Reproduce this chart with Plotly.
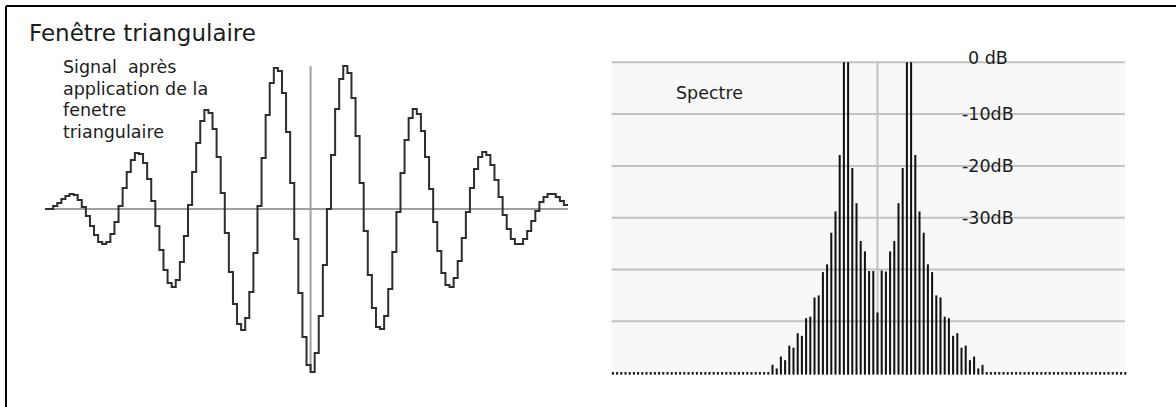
import plotly.graph_objects as go

# ---------------------------------------------------------------------------
# Data
# ---------------------------------------------------------------------------
# Windowed signal: 128 samples (arbitrary amplitude units, zero = baseline)
signal = [
    0, 0, 3, 6, 10, 13, 15, 14, 9, 2,
    -7, -17, -26, -33, -35, -33, -25, -13, 3, 21,
    37, 49, 56, 55, 46, 30, 8, -17, -41, -61,
    -74, -78, -71, -53, -27, 4, 37, 66, 88, 99,
    96, 80, 52, 16, -24, -63, -95, -115, -121, -109,
    -83, -44, 3, 51, 94, 126, 141, 138, 116, 77,
    26, -30, -84, -128, -156, -163, -144, -107, -56, 0,
    54, 100, 130, 143, 136, 111, 73, 26, -22, -66,
    -99, -118, -120, -107, -80, -43, -3, 36, 69, 91,
    100, 95, 78, 52, 20, -13, -42, -64, -76, -78,
    -69, -52, -29, -3, 21, 40, 52, 57, 54, 44,
    29, 12, -6, -20, -30, -35, -35, -30, -22, -12,
    -2, 7, 12, 15, 15, 12, 8, 4,
]
center_index = 65          # boundary at the middle of the window

# Spectrum (dB) for bins -25 .. 25 ; all other bins sit on the floor
spectrum_bins_core = list(range(-25, 26))
spectrum_db_core = [
    -58.4, -59.1, -56.8, -57.5, -54.7, -55.1, -52.3, -52.8, -49.4, -49.1,
    -45.4, -45.0, -40.5, -39.0, -32.9, -28.8, -17.9, 0.0, 0.0, -20.4,
    -27.2, -34.5, -36.5, -40.3, -40.3, -48.3, -40.2, -40.4, -36.5, -34.5,
    -27.2, -20.4, 0.0, 0.0, -17.9, -28.8, -32.9, -39.0, -40.5, -45.0,
    -45.4, -49.1, -49.4, -52.8, -52.3, -55.1, -54.7, -57.5, -56.8, -59.1,
    -58.4,
]
bin_first, bin_last = -63, 59
floor_db = -59.8
bar_base_db = -60.3
db_ticks = [0, -10, -20, -30, -40, -50]
db_labels = ["0 dB", "-10dB", "-20dB", "-30dB"]

core = dict(zip(spectrum_bins_core, spectrum_db_core))
spectrum_bins = list(range(bin_first, bin_last + 1))
spectrum_db = [core.get(b, floor_db) for b in spectrum_bins]

# ---------------------------------------------------------------------------
# Layout helpers (pixel geometry of the 1176 x 407 canvas)
# ---------------------------------------------------------------------------
W, H = 1176, 407


def px(x):
    return x / W


def py(y):
    return 1 - y / H


FONT = "DejaVu Sans"
TXT = "#1c1c1c"
AXIS_GREY = "#a0a0a0"
GRID_GREY = "#c2c2c2"

fig = go.Figure()

# Signal as a zero-order-hold staircase
fig.add_trace(go.Scatter(
    x=list(range(len(signal) + 1)),
    y=signal + [signal[-1]],
    mode="lines",
    line=dict(color="#2e2e2e", width=2, shape="hv"),
    xaxis="x", yaxis="y", hoverinfo="skip",
))

# Spectrum as thin vertical bars from the floor
fig.add_trace(go.Bar(
    x=spectrum_bins,
    y=[v - bar_base_db for v in spectrum_db],
    base=bar_base_db,
    width=0.48,
    marker=dict(color="#111111", line=dict(width=0)),
    xaxis="x2", yaxis="y2", hoverinfo="skip",
))

shapes = []
# spectrum panel background
shapes.append(dict(type="rect", xref="x2", yref="y2",
                   x0=bin_first - 0.3, x1=bin_last - 0.1, y0=-60, y1=0,
                   fillcolor="#f8f8f8", line=dict(width=0), layer="below"))
# dB grid
for d in db_ticks:
    shapes.append(dict(type="line", xref="x2", yref="y2",
                       x0=bin_first - 0.3, x1=bin_last - 0.1, y0=d, y1=d,
                       line=dict(color=GRID_GREY, width=2), layer="below"))
# DC line of the spectrum
shapes.append(dict(type="line", xref="x2", yref="y2", x0=0, x1=0,
                   y0=-60, y1=0, line=dict(color=GRID_GREY, width=2),
                   layer="below"))
# Signal axes
shapes.append(dict(type="line", xref="x", yref="y", x0=0, x1=len(signal),
                   y0=0, y1=0, line=dict(color=AXIS_GREY, width=2),
                   layer="below"))
shapes.append(dict(type="line", xref="x", yref="y", x0=center_index,
                   x1=center_index, y0=-161, y1=143,
                   line=dict(color=AXIS_GREY, width=2), layer="below"))
# Frame
shapes.append(dict(type="line", xref="paper", yref="paper",
                   x0=px(6), x1=px(6), y0=py(6), y1=0,
                   line=dict(color="#000000", width=2)))
shapes.append(dict(type="line", xref="paper", yref="paper",
                   x0=px(6), x1=1, y0=py(6), y1=py(6),
                   line=dict(color="#000000", width=2)))

annotations = []
annotations.append(dict(text="Fenêtre triangulaire", xref="paper", yref="paper",
                        x=px(27), y=py(33), xanchor="left", yanchor="middle",
                        showarrow=False, font=dict(family=FONT, size=23, color=TXT)))
label_lines = ["Signal\u00a0 après", "application de la", "fenetre", "triangulaire"]
for i, line in enumerate(label_lines):
    annotations.append(dict(text=line, xref="paper", yref="paper",
                            x=px(61), y=py(67 + 21.6 * i), xanchor="left",
                            yanchor="middle", showarrow=False,
                            font=dict(family=FONT, size=17.5, color=TXT)))
annotations.append(dict(text="Spectre", xref="paper", yref="paper",
                        x=px(674), y=py(93), xanchor="left", yanchor="middle",
                        showarrow=False, font=dict(family=FONT, size=17.5, color=TXT)))
for d, lab in zip(db_ticks, db_labels):
    annotations.append(dict(text=lab, xref="x2", yref="y2",
                            x=26.3, y=d + (0.8 if d == 0 else 0),
                            xanchor="center", yanchor="middle", showarrow=False,
                            font=dict(family=FONT, size=17.5, color=TXT)))

# Axis geometry: signal sample i -> 45 + 4.086*i px ; bin b -> 877.5 + 4.2*b px
sig_dx = 4.086
spec_dx = 4.2
db_px = 5.18
fig.update_layout(
    width=W, height=H,
    margin=dict(l=0, r=0, t=0, b=0),
    paper_bgcolor="white", plot_bgcolor="rgba(0,0,0,0)",
    showlegend=False, hovermode=False,
    xaxis=dict(domain=[px(40), px(580)], range=[(40 - 45) / sig_dx, (580 - 45) / sig_dx],
               visible=False, fixedrange=True),
    yaxis=dict(domain=[py(385), py(50)], range=[209 - 385, 209 - 50],
               visible=False, fixedrange=True),
    xaxis2=dict(domain=[px(600), px(1140)],
                range=[(600 - 877.5) / spec_dx, (1140 - 877.5) / spec_dx],
                visible=False, fixedrange=True),
    yaxis2=dict(domain=[py(385), py(50)],
                range=[-(385 - 62.3) / db_px, -(50 - 62.3) / db_px],
                visible=False, fixedrange=True, anchor="x2"),
    shapes=shapes,
    annotations=annotations,
)

fig.write_html("out.html")
